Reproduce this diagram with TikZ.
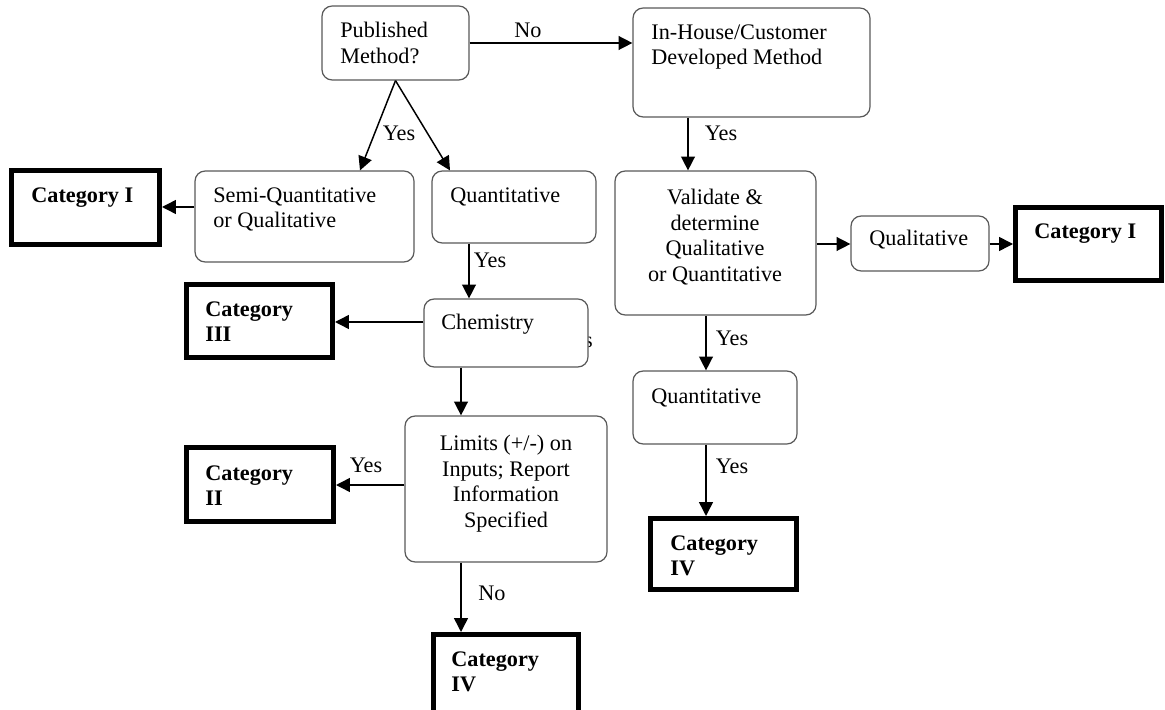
\documentclass[tikz,border=0pt]{standalone}
\usepackage{fontspec}
\setmainfont{Liberation Serif}
\usetikzlibrary{fit,arrows.meta}
\begin{document}
\begin{tikzpicture}[x=0.54pt,y=-0.54pt,
  rbox/.style={draw=black!65, line width=0.65pt, rounded corners=5.5pt, inner sep=0pt, fill=white},
  cbox/.style={draw=black, line width=2.7pt, inner sep=0pt, fill=white},
  txt/.style={font=\fontsize{12pt}{13.8pt}\selectfont, inner sep=0pt, align=left, anchor=north west},
  ctxt/.style={font=\fontsize{12pt}{13.8pt}\selectfont, inner sep=0pt, align=center, anchor=north},
  btxt/.style={font=\fontsize{12pt}{13.8pt}\selectfont\bfseries, inner sep=0pt, align=left, anchor=north west},
  arr/.style={draw=black, line width=0.8pt, -{Triangle[length=7.5pt,width=7.5pt]}},
  lbl/.style={font=\fontsize{12pt}{13.8pt}\selectfont, inner sep=0pt}
]
\useasboundingbox (0,0) rectangle (1165,710);
\clip (0,0) rectangle (1165,710);

% stray fragment partly hidden behind the Chemistry box
\node[lbl] (frag) at (588.5,342) {s};

% rounded boxes
\node[rbox, fit={(322,6) (469,80)}] (pub) {};
\node[rbox, fit={(633,8) (870,117)}] (inh) {};
\node[rbox, fit={(195,171) (414,262)}] (semi) {};
\node[rbox, fit={(432,171) (596,243)}] (quantL) {};
\node[rbox, fit={(424,299) (588,367)}] (chem) {};
\node[rbox, fit={(405,416) (607,562)}] (lim) {};
\node[rbox, fit={(615,171) (816,315)}] (val) {};
\node[rbox, fit={(851,216) (989,271)}] (qual) {};
\node[rbox, fit={(633,371) (797,444)}] (quantR) {};

% category boxes
\node[cbox, fit={(11.5,170.5) (159.5,244.5)}] (catIL) {};
\node[cbox, fit={(186.5,284.5) (332.5,357.5)}] (catIII) {};
\node[cbox, fit={(186.5,447.5) (333.5,521.5)}] (catII) {};
\node[cbox, fit={(433.5,634.5) (578.5,718)}] (catIVB) {};
\node[cbox, fit={(1015.5,207.5) (1161.5,280.5)}] (catIR) {};
\node[cbox, fit={(650.5,518.5) (796.5,589.5)}] (catIVR) {};

% texts
\node[txt] (tpub) at (340,22) {Published\\Method?};
\node[txt] (tinh) at (651,24) {In-House/Customer\\Developed Method};
\node[txt] (tsemi) at (213,187) {Semi-Quantitative\\or Qualitative};
\node[txt] (tquantL) at (450,187) {Quantitative};
\node[txt] (tchem) at (441,314) {Chemistry};
\node[ctxt] (tlim) at (506,435) {Limits (+/-) on\\Inputs; Report\\Information\\Specified};
\node[ctxt] (tval) at (715,189) {Validate \&\\determine\\Qualitative\\or Quantitative};
\node[txt] (tqual) at (869,230) {Qualitative};
\node[txt] (tquantR) at (651,388) {Quantitative};
\node[btxt] (tcatIL) at (31,187) {Category I};
\node[btxt] (tcatIII) at (205,301) {Category\\III};
\node[btxt] (tcatII) at (205,465) {Category\\II};
\node[btxt] (tcatIVB) at (451,651) {Category\\IV};
\node[btxt] (tcatIR) at (1034,223) {Category I};
\node[btxt] (tcatIVR) at (670,535) {Category\\IV};

% connectors
\draw[arr] (pub.east) -- (pub.east -| inh.west);
\draw[arr] (pub.south) -- (semi.north -| 360,0);
\draw[arr] (pub.south) -- (quantL.north -| 450,0);
\draw[arr] (semi.west |- 0,207) -- (catIL.east |- 0,207);
\draw[arr] (quantL.south -| 469,0) -- (chem.north -| 469,0);
\draw[arr] (chem.west |- 0,322) -- (catIII.east |- 0,322);
\draw[arr] (chem.south -| 461,0) -- (lim.north -| 461,0);
\draw[arr] (lim.west |- 0,485) -- (catII.east |- 0,485);
\draw[arr] (lim.south -| 461,0) -- (catIVB.north -| 461,0);
\draw[arr] (inh.south -| 688,0) -- (val.north -| 688,0);
\draw[arr] (val.east |- 0,244) -- (qual.west |- 0,244);
\draw[arr] (qual.east |- 0,244) -- (catIR.west |- 0,244);
\draw[arr] (val.south -| 706,0) -- (quantR.north -| 706,0);
\draw[arr] (quantR.south -| 706,0) -- (catIVR.north -| 706,0);

% connector labels
\node[lbl] (lno1) at (528,30) {No};
\node[lbl] (lyes1) at (399,133) {Yes};
\node[lbl] (lyes2) at (721,133) {Yes};
\node[lbl] (lyes3) at (490,260) {Yes};
\node[lbl] (lyes4) at (732,338) {Yes};
\node[lbl] (lyes5) at (732,466) {Yes};
\node[lbl] (lyes6) at (366,465) {Yes};
\node[lbl] (lno2) at (492,593) {No};
\end{tikzpicture}
\end{document}
